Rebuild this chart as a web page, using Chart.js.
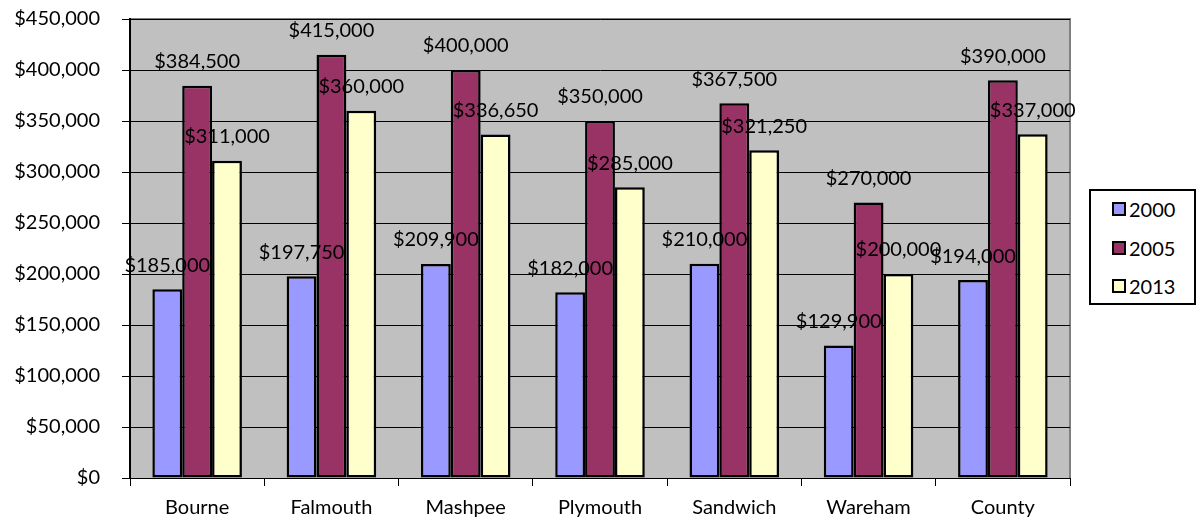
<!DOCTYPE html>
<html lang="en">
<head>
  <meta charset="UTF-8" />
  <title>Median home prices</title>
  <script src="https://cdn.jsdelivr.net/npm/chart.js"></script>
  <style>
    body { margin: 0; background: #fff; font-family: Lato, sans-serif; }
    #wrap { position: relative; width: 1196px; height: 520px; }
    #legend { position: absolute; left: 1089px; top: 189px; width: 103px; height: 112px; border: 2px solid #000; background: #fff; }
    .item { position: absolute; left: 21px; height: 22px; display: flex; align-items: center; font-size: 20px; color: #000; }
    .sw { width: 10px; height: 10px; border: 2px solid #000; margin-right: 3px; }
  </style>
</head>
<body>
  <div id="wrap">
    <canvas id="chart" width="1196" height="520"></canvas>
    <div id="legend"></div>
  </div>

  <script>
    const towns = ['Bourne', 'Falmouth', 'Mashpee', 'Plymouth', 'Sandwich', 'Wareham', 'County'];
    const years = ['2000', '2005', '2013'];
    const price2000 = [185000, 197750, 209900, 182000, 210000, 129900, 194000];
    const price2005 = [384500, 415000, 400000, 350000, 367500, 270000, 390000];
    const price2013 = [311000, 360000, 336650, 285000, 321250, 200000, 337000];
    const colors = ['#9999FF', '#993366', '#FFFFCC'];

    const money = v => '$' + v.toLocaleString('en-US');
    const FONT = { family: 'Lato, sans-serif', size: 20 };

    // gray plot area with the darker top/right edge
    const plotBg = {
      id: 'plotBg',
      beforeDraw(chart) {
        const { ctx, chartArea: a } = chart;
        ctx.save();
        ctx.fillStyle = '#C0C0C0';
        ctx.fillRect(a.left, a.top, a.right - a.left, a.bottom - a.top);
        ctx.strokeStyle = '#808080';
        ctx.lineWidth = 2;
        ctx.beginPath();
        ctx.moveTo(a.left, a.top);
        ctx.lineTo(a.right, a.top);
        ctx.lineTo(a.right, a.bottom);
        ctx.stroke();
        ctx.restore();
      }
    };

    // value labels above each bar
    const valueLabels = {
      id: 'valueLabels',
      afterDatasetsDraw(chart) {
        const ctx = chart.ctx;
        ctx.save();
        ctx.font = `${FONT.size}px ${FONT.family}`;
        ctx.fillStyle = '#000';
        ctx.textAlign = 'center';
        ctx.textBaseline = 'middle';
        chart.data.datasets.forEach((ds, di) => {
          chart.getDatasetMeta(di).data.forEach((bar, i) => {
            ctx.fillText(money(ds.data[i]), bar.x, bar.y - 24);
          });
        });
        ctx.restore();
      }
    };

    new Chart(document.getElementById('chart'), {
      type: 'bar',
      data: {
        labels: towns,
        datasets: [price2000, price2005, price2013].map((d, i) => ({
          label: years[i],
          data: d,
          backgroundColor: colors[i],
          borderColor: '#000',
          borderWidth: 2.5,
          borderSkipped: false,
          categoryPercentage: 0.667,
          barPercentage: 1.0
        }))
      },
      options: {
        responsive: false,
        animation: false,
        layout: { padding: { top: 19, right: 126, bottom: 0, left: 0 } },
        plugins: { legend: { display: false }, tooltip: { enabled: false } },
        scales: {
          x: {
            afterFit: s => { s.height = 42; s.paddingLeft = 0; s.paddingRight = 0; },
            grid: { drawOnChartArea: false, drawTicks: true, tickLength: 8, color: '#000' },
            border: { color: '#000', width: 1 },
            ticks: { color: '#000', font: FONT, padding: 10 }
          },
          y: {
            min: 0,
            max: 450000,
            afterFit: s => { s.width = 130; s.paddingTop = 0; s.paddingBottom = 0; },
            grid: { color: '#000', lineWidth: 1, tickLength: 8 },
            border: { color: '#000', width: 2 },
            ticks: { stepSize: 50000, color: '#000', font: FONT, padding: 22, callback: v => money(v) }
          }
        }
      },
      plugins: [plotBg, valueLabels]
    });

    const legend = document.getElementById('legend');
    years.forEach((y, i) => {
      const el = document.createElement('div');
      el.className = 'item';
      el.style.top = (7 + i * 38.5) + 'px';
      el.innerHTML = `<span class="sw" style="background:${colors[i]}"></span>${y}`;
      legend.appendChild(el);
    });
  </script>
</body>
</html>
